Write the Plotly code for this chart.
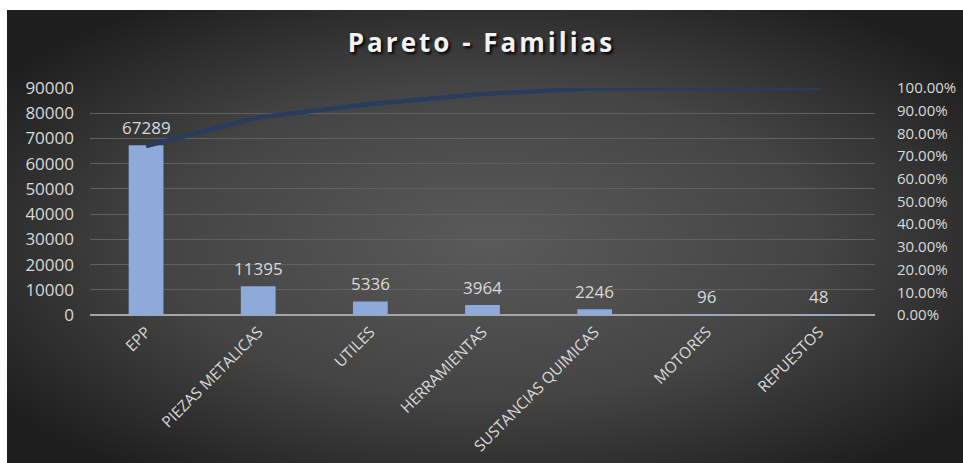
import base64
import plotly.graph_objects as go

# Pareto data: families, quantities and cumulative share
familias = ["EPP", "PIEZAS METALICAS", "UTILES", "HERRAMIENTAS",
            "SUSTANCIAS QUIMICAS", "MOTORES", "REPUESTOS"]
cantidades = [67289, 11395, 5336, 3964, 2246, 96, 48]
acumulado = [0.7446, 0.8707, 0.9297, 0.9736, 0.9984, 0.9995, 1.0]

left_ticks = list(range(0, 90001, 10000))
right_ticks = [i / 10 for i in range(0, 11)]

W, H = 963, 463
ML, MR, MT, MB = 90, 88, 88, 148
PW, PH = W - ML - MR, H - MT - MB

# Radial gradient backdrop for the chart area
svg = (
    '<svg xmlns="http://www.w3.org/2000/svg" width="980" height="480" '
    'viewBox="0 0 980 480" preserveAspectRatio="none">'
    '<defs><radialGradient id="g" cx="50%" cy="50%" r="62%">'
    '<stop offset="0%" stop-color="#5a5a5a"/>'
    '<stop offset="55%" stop-color="#444444"/>'
    '<stop offset="100%" stop-color="#1e1e1e"/>'
    '</radialGradient></defs>'
    '<rect width="980" height="480" fill="url(#g)"/></svg>'
)
bg_uri = "data:image/svg+xml;base64," + base64.b64encode(svg.encode()).decode()


def px_x(p):
    return (p - ML) / PW


def px_y(p):
    return (H - MB - p) / PH


x0_px, y0_px = 7, 10
label_color = "#d9d9d9"
font_family = "Open Sans, Lato, sans-serif"

fig = go.Figure()

fig.add_trace(go.Bar(
    x=familias, y=cantidades,
    marker=dict(color="#8eaadb", line=dict(width=0)),
    width=0.31,
    hoverinfo="x+y",
    showlegend=False,
))

fig.add_trace(go.Scatter(
    x=familias, y=acumulado, yaxis="y2",
    mode="lines",
    line=dict(color="#2a3c5e", width=4.5),
    showlegend=False,
))

# Value labels above the bars
for f, v in zip(familias, cantidades):
    fig.add_annotation(
        x=f, y=v, xref="x", yref="y",
        text=str(v), showarrow=False,
        yanchor="middle", yshift=18,
        font=dict(family=font_family, size=17, color=label_color),
    )

# White strips framing the chart area on the top and left
white_strips = [
    dict(type="rect", xref="paper", yref="paper", layer="below",
         x0=px_x(-5), x1=px_x(W + 5), y0=px_y(y0_px), y1=px_y(-5),
         fillcolor="white", line=dict(width=0)),
    dict(type="rect", xref="paper", yref="paper", layer="below",
         x0=px_x(-5), x1=px_x(x0_px), y0=px_y(H + 5), y1=px_y(-5),
         fillcolor="white", line=dict(width=0)),
]

fig.update_layout(
    width=W, height=H,
    margin=dict(l=ML, r=MR, t=MT, b=MB, pad=0, autoexpand=False),
    paper_bgcolor="#262626",
    plot_bgcolor="rgba(0,0,0,0)",
    title=dict(
        text='<span style="letter-spacing:3px">Pareto - Familias</span>',
        x=0.5, xref="container", xanchor="center",
        y=1 - 43 / H, yref="container", yanchor="middle",
        font=dict(family=font_family, size=26, color="#f2f2f2",
                  weight="bold", shadow="2px 2px 3px #000000"),
    ),
    images=[dict(
        source=bg_uri, xref="paper", yref="paper",
        x=px_x(x0_px), y=px_y(y0_px),
        sizex=(W + 10 - x0_px) / PW, sizey=(H + 10 - y0_px) / PH,
        xanchor="left", yanchor="top", sizing="stretch", layer="below",
    )],
    shapes=white_strips,
    xaxis=dict(
        type="category",
        automargin=False,
        tickangle=-45,
        tickfont=dict(family=font_family, size=15.5, color=label_color),
        showgrid=False, showline=False, ticks="",
        ticklabelstandoff=4,
    ),
    yaxis=dict(
        automargin=False,
        range=[0, 90000], tickvals=left_ticks,
        tickformat="d",
        tickfont=dict(family=font_family, size=17, color=label_color),
        showgrid=True, gridcolor="#616161", gridwidth=1,
        zeroline=True, zerolinecolor="#a6a6a6", zerolinewidth=2,
        showline=False, ticks="",
        ticklabelstandoff=15,
    ),
    yaxis2=dict(
        automargin=False,
        range=[0, 1], tickvals=right_ticks,
        tickformat=".2%",
        overlaying="y", side="right",
        tickfont=dict(family=font_family, size=15, color=label_color),
        showgrid=False, zeroline=False, showline=False, ticks="",
        ticklabelstandoff=21,
    ),
    bargap=0.69,
    hovermode="closest",
)

fig.write_html("out.html")
